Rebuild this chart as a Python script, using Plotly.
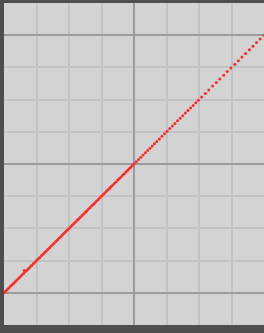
import plotly.graph_objects as go

# Data points (lie on the diagonal y = x)
x_vals = [-4.00, -3.95, -3.90, -3.85, -3.80, -3.75, -3.70, -3.65, -3.60, -3.55,
          -3.50, -3.45, -3.40, -3.35, -3.30, -3.25, -3.20, -3.15, -3.10, -3.05,
          -3.00, -2.95, -2.90, -2.85, -2.80, -2.75, -2.70, -2.65, -2.60, -2.55,
          -2.50, -2.45, -2.40, -2.35, -2.30, -2.25, -2.20, -2.15, -2.10, -2.05,
          -2.00, -1.95, -1.90, -1.85, -1.80, -1.75, -1.70, -1.65, -1.60, -1.55,
          -1.50, -1.45, -1.40, -1.35, -1.30, -1.25, -1.20, -1.15, -1.10, -1.05,
          -1.00, -0.95, -0.90, -0.85, -0.80, -0.75, -0.70, -0.65, -0.60, -0.55,
          -0.50, -0.45, -0.40, -0.35, -0.30, -0.25, -0.20, -0.15, -0.10, -0.05,
          0.00, 0.07, 0.14, 0.21, 0.28, 0.35, 0.42, 0.49, 0.56, 0.63, 0.70,
          0.78, 0.86, 0.94, 1.02, 1.10, 1.18, 1.26, 1.34, 1.42, 1.50, 1.58,
          1.66, 1.74, 1.82, 1.90, 1.98, 2.08, 2.19, 2.30, 2.42, 2.53, 2.64,
          2.76, 2.87, 2.98, 3.10, 3.21, 3.32, 3.43, 3.55, 3.66, 3.77, 3.88, 4.00,
          -3.38]
y_vals = [-4.00, -3.95, -3.90, -3.85, -3.80, -3.75, -3.70, -3.65, -3.60, -3.55,
          -3.50, -3.45, -3.40, -3.35, -3.30, -3.25, -3.20, -3.15, -3.10, -3.05,
          -3.00, -2.95, -2.90, -2.85, -2.80, -2.75, -2.70, -2.65, -2.60, -2.55,
          -2.50, -2.45, -2.40, -2.35, -2.30, -2.25, -2.20, -2.15, -2.10, -2.05,
          -2.00, -1.95, -1.90, -1.85, -1.80, -1.75, -1.70, -1.65, -1.60, -1.55,
          -1.50, -1.45, -1.40, -1.35, -1.30, -1.25, -1.20, -1.15, -1.10, -1.05,
          -1.00, -0.95, -0.90, -0.85, -0.80, -0.75, -0.70, -0.65, -0.60, -0.55,
          -0.50, -0.45, -0.40, -0.35, -0.30, -0.25, -0.20, -0.15, -0.10, -0.05,
          0.00, 0.07, 0.14, 0.21, 0.28, 0.35, 0.42, 0.49, 0.56, 0.63, 0.70,
          0.78, 0.86, 0.94, 1.02, 1.10, 1.18, 1.26, 1.34, 1.42, 1.50, 1.58,
          1.66, 1.74, 1.82, 1.90, 1.98, 2.08, 2.19, 2.30, 2.42, 2.53, 2.64,
          2.76, 2.87, 2.98, 3.10, 3.21, 3.32, 3.43, 3.55, 3.66, 3.77, 3.88, 4.00,
          -3.31]

x_range = [-4, 4]
y_range = [-5, 5]

fig = go.Figure()
fig.add_trace(go.Scatter(
    x=x_vals, y=y_vals, mode="markers",
    marker=dict(size=3, color="#ff2a2a", line=dict(width=0)),
    showlegend=False, hoverinfo="skip",
))

axis_common = dict(
    showticklabels=False, ticks="", zeroline=False, showline=False,
    dtick=4, tick0=0, showgrid=True, gridcolor="#9c9c9c", gridwidth=2,
    minor=dict(dtick=1, tick0=0, showgrid=True, gridcolor="#c3c3c3", gridwidth=2),
    fixedrange=True,
)

fig.update_layout(
    width=264, height=333,
    margin=dict(l=4, r=0, t=3, b=8),
    paper_bgcolor="#4e4e4e",
    plot_bgcolor="#d3d3d3",
    xaxis=dict(range=x_range, **axis_common),
    yaxis=dict(range=y_range, **axis_common),
)

fig.write_html(
    "out.html",
    config={"displayModeBar": False},
    post_script="document.body.style.margin='0';document.body.style.overflow='hidden';",
)
